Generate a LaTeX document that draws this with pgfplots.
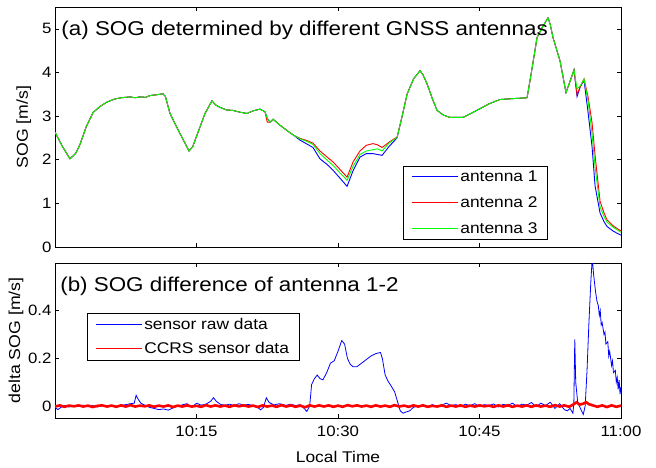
\documentclass[border=0pt]{standalone}
\usepackage{fontspec}
\setmainfont[FakeStretch=1.12]{Liberation Sans}
\usepackage{pgfplots}
\usepackage{pgfplotstable}
\pgfplotsset{compat=1.18}
\definecolor{mblue}{rgb}{0,0,1}
\definecolor{mred}{rgb}{1,0,0}
\definecolor{mgreen}{rgb}{0,1,0}

\pgfplotstableread{
t      b     r     g
0      2.63  2.63  2.63
0.8    2.30  2.30  2.30
1.59   2.02  2.02  2.02
2.2    2.15  2.15  2.15
2.65   2.35  2.35  2.35
3.3    2.75  2.75  2.75
4.03   3.08  3.08  3.08
4.77   3.22  3.22  3.22
5.5    3.32  3.32  3.32
6.3    3.39  3.39  3.39
7.0    3.42  3.42  3.42
7.95   3.44  3.44  3.44
8.5    3.42  3.42  3.42
9.0    3.44  3.44  3.44
9.6    3.43  3.43  3.43
10.07  3.47  3.47  3.47
10.8   3.49  3.49  3.49
11.45  3.51  3.51  3.51
11.7   3.45  3.45  3.45
12.19  3.06  3.06  3.06
13.25  2.60  2.60  2.60
14.21  2.20  2.20  2.20
14.6   2.30  2.30  2.30
15.37  2.75  2.75  2.75
15.90  3.06  3.06  3.06
16.64  3.35  3.35  3.35
17.0   3.26  3.26  3.26
17.49  3.20  3.20  3.20
18.2   3.14  3.14  3.14
18.87  3.13  3.13  3.13
19.6   3.09  3.09  3.09
20.35  3.06  3.06  3.06
21.0   3.12  3.12  3.12
21.73  3.16  3.16  3.16
22.26  3.10  3.10  3.10
22.5   2.95  2.86  2.95
22.79  2.86  2.86  2.86
23.11  2.93  2.93  2.93
23.8   2.80  2.80  2.80
24.59  2.67  2.67  2.67
25.3   2.56  2.56  2.56
25.97  2.45  2.49  2.48
26.7   2.36  2.44  2.42
27.35  2.28  2.38  2.35
28.09  2.02  2.20  2.14
28.8   1.90  2.07  2.00
29.47  1.76  1.95  1.87
30.2   1.58  1.78  1.70
30.96  1.39  1.60  1.53
31.6   1.75  1.95  1.85
32.33  2.06  2.20  2.12
33.0   2.14  2.33  2.20
33.71  2.14  2.37  2.23
34.2   2.12  2.34  2.25
34.67  2.10  2.28  2.20
35.4   2.30  2.40  2.38
36.26  2.50  2.52  2.51
36.8   3.00  3.00  3.00
37.32  3.50  3.50  3.50
38.0   3.85  3.85  3.85
38.69  4.04  4.04  4.04
39.0   3.95  3.95  3.95
39.44  3.74  3.74  3.74
40.0   3.40  3.40  3.40
40.50  3.13  3.13  3.13
41.2   3.02  3.02  3.02
41.87  2.97  2.97  2.97
43.25  2.97  2.97  2.97
44.0   3.05  3.05  3.05
45.05  3.17  3.17  3.17
46.0   3.28  3.28  3.28
47.17  3.38  3.38  3.38
48.5   3.40  3.40  3.40
50.04  3.42  3.42  3.42
50.5   4.00  4.00  4.00
51.10  4.80  4.80  4.80
51.7   5.05  5.05  5.05
52.26  5.25  5.25  5.25
52.5   5.10  5.10  5.10
52.79  4.80  4.80  4.80
53.53  4.27  4.27  4.27
54.17  3.54  3.54  3.54
54.6   3.80  3.80  3.80
55.02  4.06  4.06  4.06
55.34  3.45  3.50  3.62
55.7   3.68  3.68  3.70
56.08  3.82  3.85  3.85
56.50  3.10  3.45  3.36
56.93  2.30  2.85  2.60
57.25  1.40  2.10  1.83
57.78  0.78  1.05  0.92
58.2   0.58  0.78  0.70
58.52  0.47  0.62  0.57
59.2   0.36  0.48  0.45
59.9   0.28  0.38  0.35
60     0.27  0.37  0.34
}\sogtable

\pgfplotsset{
  myax/.style={
    scale only axis, width=566bp, xmin=0, xmax=60,
    anchor=south west,
    tick align=inside,
    major tick length=4bp,
    xtick={15,30,45,60},
    tick style={black, line width=0.5bp},
    axis line style={line width=0.6bp},
    every tick label/.append style={font=\fontsize{15bp}{18bp}\selectfont},
    xticklabel style={yshift=-5bp},
    /pgf/number format/assume math mode=true,
    label style={font=\fontsize{15bp}{18bp}\selectfont},
    legend style={font=\fontsize{15.5bp}{18bp}\selectfont, draw=black,
      inner xsep=8bp, inner ysep=3bp,
      /tikz/every even column/.style={column sep=3bp}, row sep=9.5bp},
    legend cell align=left,
    legend image code/.code={\draw[#1, line width=1.1bp] (0bp,0bp) -- (46bp,0bp);},
  }
}

\begin{document}
\begin{tikzpicture}
\useasboundingbox (0,0) rectangle (656bp,468bp);

\begin{axis}[myax, at={(55bp,221bp)}, height=240bp,
  ymin=0, ymax=5.5, ytick={0,1,2,3,4,5},
  xticklabels={},
  ylabel={SOG [m/s]},
  ylabel style={at={(axis description cs:-0.055,0.5)}, anchor=center, font=\fontsize{15.8bp}{19bp}\selectfont},
  legend style={at={(axis description cs:0.615,0.03)}, anchor=south west},
]
\addplot[draw=mblue, line width=0.9bp] table[x=t, y=b] {\sogtable};
\addplot[draw=mred, line width=0.9bp] table[x=t, y=r] {\sogtable};
\addplot[draw=mgreen, line width=0.9bp] table[x=t, y=g] {\sogtable};
\legend{antenna 1, antenna 2, antenna 3}
\node[anchor=base west, font=\fontsize{20bp}{24bp}\selectfont, inner sep=0pt] at (axis description cs:0.011,0.883) {(a) SOG determined by different GNSS antennas};
\end{axis}

\begin{axis}[myax, at={(55bp,50bp)}, height=155bp,
  ymin=-0.05, ymax=0.6, ytick={0,0.2,0.4}, yticklabels={0,0.2,0.4},
  xticklabels={10:15,10:30,10:45,11:00},
  xlabel={Local Time},
  xlabel style={at={(axis description cs:0.5,0)}, anchor=base, yshift=-44bp, font=\fontsize{15.5bp}{19bp}\selectfont},
  ylabel={delta SOG [m/s]},
  ylabel style={at={(axis description cs:-0.069,0.5)}, anchor=center, font=\fontsize{15.8bp}{19bp}\selectfont},
  legend style={at={(axis description cs:0.0565,0.676)}, anchor=north west, row sep=7bp},
]
\addplot[draw=mblue, line width=0.8bp] coordinates {
(0,-0.005)(0.3,-0.015)(0.6,-0.006)(1,0.002)(1.5,-0.004)(2,0.003)(2.5,-0.002)(3,0.004)(3.5,-0.003)(4,0.002)(4.5,-0.004)(5,0.003)(5.5,0)(6,0.004)(6.5,-0.002)(7,0.003)(7.5,0.006)(8,0.01)(8.4,0.012)(8.6,0.045)(8.8,0.03)(9.1,0.012)(9.5,0.004)(10,-0.005)(10.5,-0.01)(11,-0.015)(11.5,-0.012)(12,-0.017)(12.5,-0.008)(13,0)(13.5,0.005)(14,0.01)(14.5,-0.005)(15,0.012)(15.5,0.004)(16,0.008)(16.5,0.02)(16.8,0.035)(17.1,0.02)(17.5,0.008)(18,0.003)(18.5,0.008)(19,0.002)(19.5,0.01)(20,0.004)(20.5,0.007)(21,0.002)(21.5,-0.006)(21.8,-0.016)(22.1,-0.005)(22.4,0.035)(22.7,0.015)(23.2,0.005)(23.8,0.01)(24.5,0.003)(25,0.008)(25.5,0.002)(26,0.006)(26.4,-0.01)(26.7,-0.022)(27,0)(27.2,0.09)(27.5,0.115)(27.8,0.13)(28.1,0.115)(28.4,0.11)(28.8,0.14)(29.2,0.18)(29.6,0.19)(30,0.23)(30.4,0.275)(30.7,0.26)(31,0.2)(31.3,0.175)(31.6,0.165)(32,0.165)(32.5,0.18)(33,0.195)(33.5,0.21)(34,0.22)(34.5,0.225)(34.7,0.2)(35,0.13)(35.3,0.105)(35.7,0.08)(36,0.06)(36.3,0.02)(36.6,-0.02)(36.9,-0.03)(37.2,-0.025)(37.6,-0.02)(38,-0.005)(38.5,0)(39,0.004)(39.5,-0.003)(40,0.006)(40.5,-0.002)(41,0.005)(41.5,0.012)(42,0.002)(42.5,0.006)(43,-0.003)(43.5,0.008)(44,0.002)(44.5,0.01)(45,-0.002)(45.5,0.006)(46,0.002)(46.5,0.009)(47,-0.004)(47.5,0.007)(48,0.003)(48.5,0.012)(49,-0.002)(49.5,0.008)(50,0.004)(50.5,0.015)(51,-0.003)(51.5,0.012)(52,0.002)(52.5,0.016)(53,-0.01)(53.5,0.01)(54,-0.015)(54.3,-0.02)(54.6,-0.01)(54.9,-0.03)(55.0,0.01)(55.1,0.28)(55.2,0.1)(55.4,0.02)(55.7,-0.01)(56,-0.035)(56.2,0)(56.4,0.15)(56.6,0.35)(56.8,0.52)(56.95,0.62)(57.1,0.55)(57.3,0.48)(57.45,0.44)(57.6,0.42)(57.7,0.38)(57.8,0.40)(57.9,0.34)(58,0.35)(58.2,0.30)(58.3,0.31)(58.4,0.26)(58.6,0.27)(58.7,0.21)(58.8,0.23)(59,0.17)(59.1,0.19)(59.2,0.14)(59.4,0.15)(59.5,0.10)(59.6,0.12)(59.7,0.07)(59.8,0.11)(59.9,0.05)(60,0.08)
};
\addplot[draw=mred, line width=2.6bp] coordinates {
(0,-0.002)(0.5,0.003)(1,-0.003)(1.5,0.002)(2,-0.001)(2.5,0.003)(3,-0.002)(3.5,0.002)(4,-0.004)(4.5,0.001)(5,0.003)(5.5,-0.002)(6,0.002)(6.5,-0.003)(7,0.003)(7.5,-0.002)(8,0.004)(8.5,-0.002)(9,0.002)(9.5,-0.001)(10,0.003)(10.5,-0.003)(11,0.002)(11.5,-0.002)(12,0.003)(12.5,-0.004)(13,0.002)(13.5,-0.002)(14,0.003)(14.5,-0.002)(15,0.001)(15.5,-0.003)(16,0.004)(16.5,-0.002)(17,0.003)(17.5,-0.002)(18,0.002)(18.5,-0.003)(19,0.003)(19.5,-0.001)(20,0.003)(20.5,-0.002)(21,0.002)(21.5,-0.004)(22,0.003)(22.5,-0.002)(23,0.002)(23.5,-0.003)(24,0.004)(24.5,-0.002)(25,0.003)(25.5,-0.003)(26,0.002)(26.5,-0.005)(27,0.003)(27.5,-0.002)(28,0.003)(28.5,-0.002)(29,0.003)(29.5,-0.003)(30,0.002)(30.5,-0.003)(31,0.004)(31.5,-0.001)(32,0.003)(32.5,-0.002)(33,0.002)(33.5,-0.003)(34,0.003)(34.5,-0.002)(35,0.002)(35.5,-0.003)(36,0.004)(36.5,-0.002)(37,0.002)(37.5,-0.003)(38,0.003)(38.5,-0.002)(39,0.003)(39.5,-0.003)(40,0.001)(40.5,-0.002)(41,0.003)(41.5,-0.003)(42,0.002)(42.5,-0.002)(43,0.003)(43.5,-0.003)(44,0.002)(44.5,-0.002)(45,0.003)(45.5,-0.001)(46,0.002)(46.5,-0.003)(47,0.003)(47.5,-0.002)(48,0.003)(48.5,-0.003)(49,0.002)(49.5,-0.002)(50,0.003)(50.5,-0.003)(51,0.003)(51.5,-0.002)(52,0.002)(52.5,-0.003)(53,0.004)(53.5,-0.002)(54,0.003)(54.5,-0.003)(55,0.008)(55.3,0.016)(55.6,0.006)(56,0.01)(56.3,0.016)(56.6,0.008)(57,0.003)(57.5,-0.003)(58,0.003)(58.5,-0.004)(59,0.003)(59.5,-0.003)(60,0.002)
};
\legend{sensor raw data, CCRS sensor data}
\node[anchor=base west, font=\fontsize{20bp}{24bp}\selectfont, inner sep=0pt] at (axis description cs:0.009,0.813) {(b) SOG difference of antenna 1-2};
\end{axis}
\end{tikzpicture}
\end{document}
